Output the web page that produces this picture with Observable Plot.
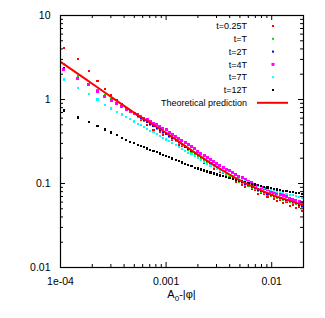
<!DOCTYPE html>
<html><head><meta charset="utf-8">
<script src="https://cdn.jsdelivr.net/npm/d3@7"></script>
<script src="https://cdn.jsdelivr.net/npm/@observablehq/plot@0.6"></script>
<style>
html,body{margin:0;padding:0;background:#fff;}
#chart{width:325px;height:318px;}
svg{font-family:"Liberation Sans",Arial,Helvetica,sans-serif;}
</style></head><body><div id="chart"></div>
<script>
// ---- data ----
const xValues = [1.07e-4, 1.46e-4, 1.85e-4, 2.24e-4, 2.63e-4, 3.02e-4, 3.41e-4, 3.80e-4, 4.19e-4, 4.58e-4, 4.97e-4,
  5.37e-4, 5.75e-4, 6.17e-4, 6.61e-4, 7.08e-4, 7.59e-4, 8.13e-4, 8.71e-4, 9.33e-4, 1.0e-3,
  1.072e-3, 1.148e-3, 1.230e-3, 1.318e-3, 1.413e-3, 1.514e-3, 1.622e-3, 1.738e-3, 1.862e-3, 1.995e-3,
  2.138e-3, 2.291e-3, 2.455e-3, 2.630e-3, 2.818e-3, 3.020e-3, 3.236e-3, 3.467e-3, 3.715e-3, 3.981e-3,
  4.266e-3, 4.571e-3, 4.898e-3, 5.248e-3, 5.623e-3, 6.026e-3, 6.457e-3, 6.918e-3, 7.413e-3, 7.943e-3,
  8.511e-3, 9.120e-3, 9.772e-3, 1.047e-2, 1.122e-2, 1.202e-2, 1.288e-2, 1.380e-2, 1.479e-2, 1.585e-2,
  1.698e-2, 1.820e-2, 1.950e-2];

const yT025 = [4.1, 3.0, 2.17, 1.65, 1.33, 1.12, 0.985, 0.88, 0.80, 0.74, 0.69,
  0.635, 0.571, 0.582, 0.500, 0.500, 0.438, 0.463, 0.416, 0.381, 0.384,
  0.366, 0.327, 0.332, 0.284, 0.282, 0.246, 0.259, 0.232, 0.212, 0.212,
  0.198, 0.178, 0.181, 0.162, 0.148, 0.149, 0.136, 0.133, 0.119, 0.119,
  0.116, 0.105, 0.107, 0.0973, 0.0903, 0.0925, 0.0850, 0.0843, 0.0757, 0.0767,
  0.0757, 0.0693, 0.0722, 0.0663, 0.0623, 0.0646, 0.0582, 0.0597, 0.0537, 0.0558,
  0.0512, 0.0532, 0.0472];

const yT1 = [2.65, 1.88, 1.52, 1.28, 1.13, 1.01, 0.90, 0.83, 0.76, 0.71, 0.665,
  0.625, 0.595, 0.562, 0.535, 0.503, 0.479, 0.452, 0.430, 0.405, 0.385,
  0.361, 0.341, 0.321, 0.304, 0.284, 0.269, 0.253, 0.239, 0.225, 0.210,
  0.198, 0.188, 0.177, 0.168, 0.158, 0.150, 0.141, 0.135, 0.128, 0.122,
  0.116, 0.110, 0.105, 0.1005, 0.0965, 0.0925, 0.0889, 0.0851, 0.0818, 0.0785,
  0.0765, 0.0738, 0.0715, 0.0692, 0.0671, 0.0653, 0.0634, 0.0617, 0.0598, 0.0582,
  0.0565, 0.0549, 0.0533];

const yT2 = [2.36, 1.81, 1.50, 1.26, 1.09, 0.975, 0.884, 0.813, 0.754, 0.707, 0.670,
  0.635, 0.604, 0.574, 0.543, 0.515, 0.488, 0.463, 0.439, 0.415, 0.393,
  0.370, 0.349, 0.329, 0.310, 0.292, 0.275, 0.259, 0.245, 0.231, 0.218,
  0.206, 0.194, 0.184, 0.174, 0.164, 0.155, 0.147, 0.140, 0.133, 0.126,
  0.120, 0.1145, 0.109, 0.104, 0.100, 0.0960, 0.0920, 0.0884, 0.0847, 0.0813,
  0.0785, 0.0758, 0.0733, 0.0710, 0.0690, 0.0670, 0.0651, 0.0632, 0.0615, 0.0597,
  0.0580, 0.0563, 0.0547];

const yT4 = [2.30, 1.80, 1.49, 1.26, 1.10, 0.985, 0.894, 0.822, 0.762, 0.722, 0.684,
  0.655, 0.627, 0.600, 0.573, 0.547, 0.523, 0.500, 0.478, 0.457, 0.434,
  0.410, 0.387, 0.366, 0.345, 0.325, 0.307, 0.289, 0.273, 0.258, 0.243,
  0.230, 0.217, 0.205, 0.194, 0.183, 0.173, 0.164, 0.156, 0.148, 0.141,
  0.134, 0.128, 0.1215, 0.1164, 0.1117, 0.1062, 0.1018, 0.0978, 0.0937, 0.0899,
  0.0869, 0.0839, 0.0804, 0.0779, 0.0756, 0.0734, 0.0714, 0.0693, 0.0668, 0.0648,
  0.0630, 0.0612, 0.0594];

const yT7 = [1.73, 1.38, 1.16, 1.00, 0.87, 0.782, 0.716, 0.664, 0.618, 0.580, 0.548,
  0.517, 0.494, 0.470, 0.448, 0.426, 0.406, 0.387, 0.369, 0.351, 0.334,
  0.317, 0.300, 0.285, 0.272, 0.257, 0.244, 0.232, 0.222, 0.210, 0.199,
  0.189, 0.1795, 0.1716, 0.1639, 0.1565, 0.1494, 0.1430, 0.1375, 0.1322, 0.1270,
  0.1221, 0.1174, 0.1133, 0.1095, 0.1061, 0.1028, 0.0995, 0.0964, 0.0933, 0.0903,
  0.0881, 0.0859, 0.0837, 0.0818, 0.0802, 0.0785, 0.0770, 0.0754, 0.0736, 0.0721,
  0.0704, 0.0686, 0.0672];

const yT12 = [0.74, 0.61, 0.535, 0.485, 0.44, 0.405, 0.375, 0.35, 0.33, 0.315, 0.30,
  0.2886, 0.279, 0.2697, 0.2608, 0.2521, 0.2436, 0.2355, 0.2277, 0.2202, 0.2126,
  0.2052, 0.1981, 0.1912, 0.1845, 0.1781, 0.1720, 0.1661, 0.1603, 0.1547, 0.1506,
  0.1466, 0.1427, 0.1389, 0.1352, 0.1316, 0.1281, 0.1247, 0.1214, 0.1182, 0.1150,
  0.1125, 0.1101, 0.1077, 0.1055, 0.1034, 0.1013, 0.0993, 0.0974, 0.0954, 0.0935,
  0.0915, 0.0896, 0.0877, 0.0862, 0.0848, 0.0835, 0.0821, 0.0808, 0.0796, 0.0785,
  0.0774, 0.0765, 0.0755];

const theoryX = [1e-4, 1.5e-4, 2e-4, 3e-4, 5e-4, 7e-4, 1e-3, 1.5e-3, 2e-3, 3e-3, 4e-3, 5e-3, 7e-3, 1e-2, 1.4e-2, 2e-2];
const theoryY = [2.8, 1.977, 1.542, 1.077, 0.694, 0.531, 0.400, 0.2825, 0.221, 0.1585, 0.128, 0.1089, 0.089, 0.0735, 0.0638, 0.0550];

const seriesNames = ["t=0.25T", "t=T", "t=2T", "t=4T", "t=7T", "t=12T"];
const seriesColors = ["#ff0000", "#00dd00", "#0000ff", "#ff00ff", "#00ffff", "#000000"];
const theoryLabel = "Theoretical prediction";
const theoryColor = "#ff0000";

const xTicks = [1e-4, 1e-3, 1e-2];
const xTickLabels = ["1e-04", "0.001", "0.01"];
const yTicks = [0.01, 0.1, 1, 10];
const yTickLabels = ["0.01", "0.1", "1", "10"];
const xLabelParts = ["A", "0", "-|\u03c6|"];

// ---- layout ----
const W = 325, H = 318, mL = 60, mR = 22, mT = 15, mB = 51;
const fw = W - mL - mR, fh = H - mT - mB;

const seriesY = [yT025, yT1, yT2, yT4, yT7, yT12];
const points = [];
seriesY.forEach((ys, k) => ys.forEach((y, i) => points.push({x: xValues[i], y, s: k})));
const theory = theoryX.map((x, i) => ({x, y: theoryY[i]}));

const minorX = [], minorY = [];
[1e-4, 1e-3, 1e-2].forEach(d => { for (let m = 2; m <= 9; m++) { const v = m * d; if (v < 0.0199) minorX.push(v); } });
[0.01, 0.1, 1].forEach(d => { for (let m = 2; m <= 9; m++) minorY.push(m * d); });

const major = 5, minor = 3;

const plot = Plot.plot({
  width: W, height: H,
  marginLeft: mL, marginRight: mR, marginTop: mT, marginBottom: mB,
  style: {fontFamily: '"Liberation Sans", Arial, Helvetica, sans-serif', fontSize: "10.5px", background: "#fff", color: "#000"},
  x: {type: "log", domain: [1e-4, 0.02]},
  y: {type: "log", domain: [0.01, 10]},
  marks: [
    ...seriesNames.map((name, k) => Plot.dot(points.filter(p => p.s === k), {
      x: "x", y: "y", symbol: "square", r: k === 3 ? 1.7 : 1.2, fill: seriesColors[k], stroke: null,
      shapeRendering: "crispEdges"
    })),
    Plot.line(theory, {x: "x", y: "y", stroke: theoryColor, strokeWidth: 2, curve: "catmull-rom", clip: true}),
    Plot.ruleX(xTicks, {insetTop: fh - major}),
    Plot.ruleX(xTicks, {insetBottom: fh - major}),
    Plot.ruleX(minorX, {insetTop: fh - minor}),
    Plot.ruleX(minorX, {insetBottom: fh - minor}),
    Plot.ruleY(yTicks, {insetRight: fw - major}),
    Plot.ruleY(yTicks, {insetLeft: fw - major}),
    Plot.ruleY(minorY, {insetRight: fw - minor}),
    Plot.ruleY(minorY, {insetLeft: fw - minor}),
    Plot.frame({stroke: "#000", strokeWidth: 1.2}),
    Plot.axisX(xTicks, {tickSize: 0, tickPadding: 10, tickFormat: d => xTickLabels[xTicks.indexOf(d)], label: null}),
    Plot.axisY(yTicks, {tickSize: 0, tickPadding: 10, tickFormat: d => yTickLabels[yTicks.indexOf(d)], label: null})
  ]
});

document.getElementById("chart").appendChild(plot);

// ---- legend and axis label ----
const svg = d3.select(plot);
const g = svg.append("g").attr("font-size", 9).attr("fill", "#000");
const textX = mL + fw - 56, markX = mL + fw - 30, y0 = mT + 11, step = 12.8;
seriesNames.forEach((name, k) => {
  const cy = y0 + k * step;
  g.append("text").attr("x", textX).attr("y", cy).attr("dy", "0.35em").attr("text-anchor", "end").text(name);
  const s = k === 3 ? 3 : 2;
  g.append("rect").attr("x", markX - s / 2).attr("y", cy - s / 2).attr("width", s).attr("height", s).attr("fill", seriesColors[k]);
});
const cyT = y0 + 6 * step;
g.append("text").attr("x", textX).attr("y", cyT).attr("dy", "0.35em").attr("text-anchor", "end").text(theoryLabel);
g.append("line").attr("x1", mL + fw - 46).attr("x2", mL + fw - 15).attr("y1", cyT).attr("y2", cyT)
  .attr("stroke", theoryColor).attr("stroke-width", 2);

const lab = svg.append("text").attr("x", mL + fw / 2).attr("y", H - 20).attr("text-anchor", "middle").attr("font-size", 11).attr("fill", "#000");
lab.append("tspan").text(xLabelParts[0]);
lab.append("tspan").attr("dy", 3).attr("font-size", 8).text(xLabelParts[1]);
lab.append("tspan").attr("dy", -3).text(xLabelParts[2]);
</script>
</body></html>
